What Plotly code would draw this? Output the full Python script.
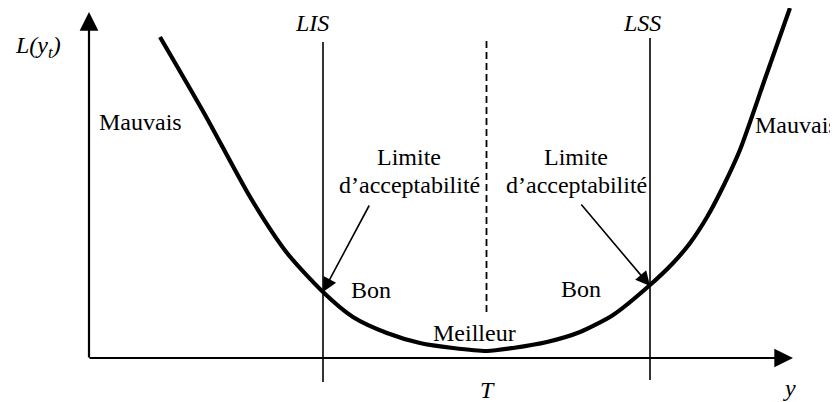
import plotly.graph_objects as go

# ---- data (abstract units: T = 0, LIS = -1, LSS = +1; loss L above the y axis) ----
curve_y = [-1.997, -1.721, -1.446, -1.220, -1.0, -0.817, -0.609, -0.407, -0.205, 0.003,
           0.162, 0.370, 0.572, 0.774, 1.0, 1.141, 1.245, 1.349, 1.446, 1.550, 1.703, 1.856]
curve_L = [3.21, 2.43, 1.61, 1.05, 0.66, 0.41, 0.25, 0.15, 0.10, 0.07,
           0.10, 0.16, 0.26, 0.43, 0.73, 0.95, 1.15, 1.41, 1.71, 2.08, 2.79, 3.50]
LIS = -1.0
LSS = 1.0
T = 0.0

W, H = 838, 402
OFF = 8                       # page body margin of the browser
X0PX, XSCALE = 486.5, 163.5   # pixel of T, pixels per unit
Y0PX, YSCALE = 358.0, 100.0   # pixel of L = 0, pixels per unit


def dx(px):
    return (px - X0PX) / XSCALE


def dy(py):
    return (Y0PX - py) / YSCALE


FONT = "Liberation Serif, Times New Roman, serif"
FS = 24

fig = go.Figure()
fig.add_trace(go.Scatter(x=curve_y, y=curve_L, mode="lines",
                         line=dict(color="black", width=4.2, shape="spline", smoothing=0.7),
                         hoverinfo="skip", showlegend=False, cliponaxis=False))

shapes = [
    dict(type="line", x0=LIS, x1=LIS, y0=dy(382), y1=dy(42), line=dict(color="black", width=1.6)),
    dict(type="line", x0=LSS, x1=LSS, y0=dy(380), y1=dy(38), line=dict(color="black", width=1.6)),
    dict(type="line", x0=T, x1=T, y0=dy(312), y1=dy(40), line=dict(color="black", width=1.8, dash="7px,4px")),
]

ann = []
# axes with arrow heads
ann.append(dict(x=dx(89), y=dy(12), ax=dx(89), ay=dy(359), xref="x", yref="y", axref="x", ayref="y",
                text="", showarrow=True, arrowhead=2, arrowsize=1.7, arrowwidth=2.2, arrowcolor="black"))
ann.append(dict(x=dx(793), y=dy(358), ax=dx(88), ay=dy(358), xref="x", yref="y", axref="x", ayref="y",
                text="", showarrow=True, arrowhead=2, arrowsize=1.7, arrowwidth=2.2, arrowcolor="black"))
# pointer arrows
ann.append(dict(x=dx(323), y=dy(292), ax=dx(370), ay=dy(204), xref="x", yref="y", axref="x", ayref="y",
                text="", showarrow=True, arrowhead=2, arrowsize=1.8, arrowwidth=1.6, arrowcolor="black"))
ann.append(dict(x=dx(650), y=dy(286), ax=dx(580), ay=dy(203), xref="x", yref="y", axref="x", ayref="y",
                text="", showarrow=True, arrowhead=2, arrowsize=1.8, arrowwidth=1.6, arrowcolor="black"))

labels = [
    ("<i>L(y<sub>t</sub>)</i>", 38, 47),
    ("<i>LIS</i>", 312, 23),
    ("<i>LSS</i>", 642, 23),
    ("Mauvais", 140, 122),
    ("Mauvais", 796, 125),
    ("Limite", 409, 157),
    ("d\u2019acceptabilité", 409, 185),
    ("Limite", 576, 157),
    ("d\u2019acceptabilité", 576, 185),
    ("Bon", 371, 290),
    ("Bon", 581, 289),
    ("Meilleur", 474, 333),
    ("<i>T</i>", 487, 390),
    ("<i>y</i>", 789, 388),
]
for txt, px, py in labels:
    ann.append(dict(x=dx(px), y=dy(py), xref="x", yref="y", text=txt, showarrow=False,
                    xanchor="center", yanchor="middle",
                    font=dict(family=FONT, size=FS, color="black")))

fig.update_layout(
    width=W - OFF, height=H - OFF,
    margin=dict(l=0, r=0, t=0, b=0),
    paper_bgcolor="white", plot_bgcolor="white",
    xaxis=dict(range=[dx(OFF), dx(W)], visible=False, fixedrange=True),
    yaxis=dict(range=[dy(H), dy(OFF)], visible=False, fixedrange=True),
    shapes=shapes, annotations=ann, showlegend=False,
)

fig.write_html("out.html")
